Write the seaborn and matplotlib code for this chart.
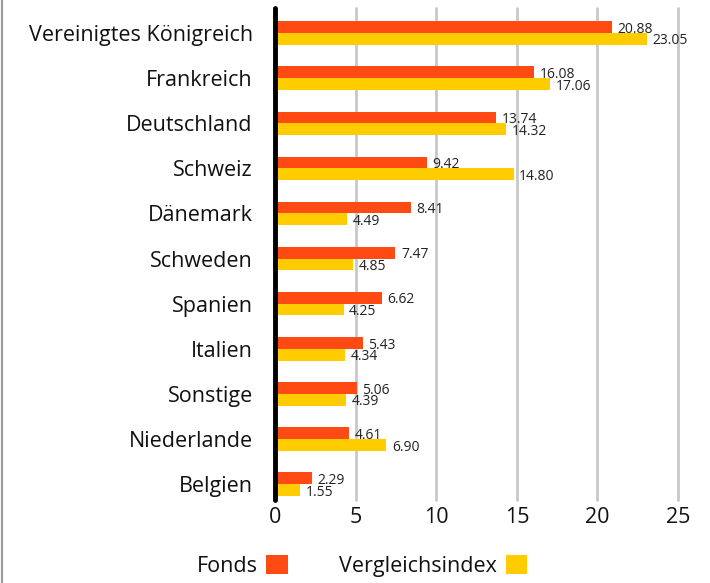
import numpy as np
import pandas as pd
import matplotlib
matplotlib.use("Agg")
import matplotlib.pyplot as plt
from matplotlib.lines import Line2D
import seaborn as sns

countries = ["Vereinigtes Königreich", "Frankreich", "Deutschland", "Schweiz",
             "Dänemark", "Schweden", "Spanien", "Italien", "Sonstige",
             "Niederlande", "Belgien"]
fonds = [20.88, 16.08, 13.74, 9.42, 8.41, 7.47, 6.62, 5.43, 5.06, 4.61, 2.29]
index_vals = [23.05, 17.06, 14.32, 14.80, 4.49, 4.85, 4.25, 4.34, 4.39, 6.90, 1.55]
series = ["Fonds", "Vergleichsindex"]
colors = ["#FF4A14", "#FFCC00"]
xticks = [0, 5, 10, 15, 20, 25]

df = pd.DataFrame({
    "Land": countries * 2,
    "Wert": fonds + index_vals,
    "Serie": [series[0]] * len(countries) + [series[1]] * len(countries),
})

sns.set_style("white")
plt.rcParams["font.family"] = ["Open Sans", "DejaVu Sans"]

fig = plt.figure(figsize=(7.10, 5.83), dpi=100)
ax = fig.add_axes([275 / 710, 1 - 500 / 583, (678 - 275) / 710, 492 / 583])

sns.barplot(data=df, y="Land", x="Wert", hue="Serie", orient="h",
            palette=colors, width=0.52, saturation=1, linewidth=0,
            ax=ax, legend=True)

ax.set_xlim(0, 25)
ax.set_ylim(10.35, -0.554)
ax.set_xticks(xticks)
ax.set_xlabel("")
ax.set_ylabel("")
for s in ax.spines.values():
    s.set_visible(False)

for x in xticks[1:]:
    ax.axvline(x, color="#C8C8C8", lw=2, zorder=0, clip_on=False)
ax.axvline(0, color="black", lw=3.5, zorder=5, clip_on=False)

ax.tick_params(axis="y", length=0, pad=16, labelsize=15.5, labelcolor="#111111")
ax.tick_params(axis="x", length=0, pad=5, labelsize=15.5, labelcolor="#111111")

for cont in ax.containers:
    for bar in cont:
        w = bar.get_width()
        yc = bar.get_y() + bar.get_height() / 2
        ax.annotate(f"{w:.2f}", (w, yc), xytext=(4, -1.5), textcoords="offset points",
                    ha="left", va="center", fontsize=10, color="#222222")

handles, labels = ax.get_legend_handles_labels()
ax.legend(handles, labels, loc="center", bbox_to_anchor=(362 / 710, 1 - 566 / 583),
          bbox_transform=fig.transFigure, ncol=2, frameon=False, markerfirst=False,
          handlelength=1.0, handleheight=1.0, handletextpad=0.4, columnspacing=2.4,
          fontsize=15.5, labelcolor="#111111", borderpad=0)

fig.add_artist(Line2D([2 / 710, 2 / 710], [0, 1], transform=fig.transFigure,
                      color="#999999", lw=1.5))

fig.savefig("out.png", dpi=100)
